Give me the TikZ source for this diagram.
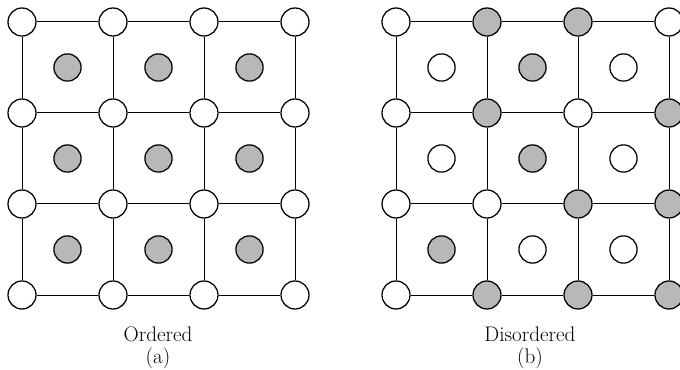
\documentclass[tikz,border=0pt]{standalone}
\usepackage{tikz}
\usetikzlibrary{positioning}
\definecolor{siteGray}{gray}{0.72}
\tikzset{
  lat/.style={draw, circle, line width=0.9pt, fill=white, minimum size=0.7cm, inner sep=0pt},
  occ/.style={lat, fill=siteGray},
  ctr/.style={draw, circle, line width=0.9pt, fill=white, minimum size=0.68cm, inner sep=0pt},
  ctrocc/.style={ctr, fill=siteGray},
  bond/.style={line width=0.7pt},
  caption/.style={font=\fontsize{15}{17}\selectfont},
}

\begin{document}
\begin{tikzpicture}
    \useasboundingbox (0,0) rectangle (17,9.25);
    % (a) ordered lattice
    \begin{scope}[shift={(0.55,1.875)}, x=2.275cm, y=2.275cm]
      \foreach \i in {0,...,3}
        \foreach \j in {0,...,3}
          \node[lat] (a-\i-\j) at (\i,\j) {};
      \foreach \i in {0,1,2}
        \foreach \j in {0,1,2}
          \node[ctrocc] (ac-\i-\j) at (\i+0.5,\j+0.5) {};
      \foreach \i [evaluate=\i as \k using int(\i+1)] in {0,1,2}
        \foreach \j in {0,...,3} {
          \draw[bond] (a-\i-\j) -- (a-\k-\j);
          \draw[bond] (a-\j-\i) -- (a-\j-\k);
        }
    \end{scope}
    % (b) disordered lattice
    \begin{scope}[shift={(9.9,1.875)}, x=2.275cm, y=2.275cm]
      \foreach \i/\j/\s in {0/3/lat,1/3/occ,2/3/occ,3/3/lat,
                            0/2/lat,1/2/occ,2/2/lat,3/2/occ,
                            0/1/lat,1/1/lat,2/1/occ,3/1/occ,
                            0/0/lat,1/0/occ,2/0/occ,3/0/occ}
        \node[\s] (b-\i-\j) at (\i,\j) {};
      \foreach \i/\j/\s in {0/2/ctr,1/2/ctrocc,2/2/ctr,
                            0/1/ctr,1/1/ctrocc,2/1/ctr,
                            0/0/ctrocc,1/0/ctr,2/0/ctr}
        \node[\s] (bc-\i-\j) at (\i+0.5,\j+0.5) {};
      \foreach \i [evaluate=\i as \k using int(\i+1)] in {0,1,2}
        \foreach \j in {0,...,3} {
          \draw[bond] (b-\i-\j) -- (b-\k-\j);
          \draw[bond] (b-\j-\i) -- (b-\j-\k);
        }
    \end{scope}
    % captions
    \node[caption] (ordLbl) at (3.95,0.9) {Ordered};
    \node[caption, below=-0.1cm of ordLbl] (aLbl) {(a)};
    \node[caption] (disLbl) at (13.25,0.9) {Disordered};
    \node[caption, below=-0.1cm of disLbl] (bLbl) {(b)};
\end{tikzpicture}
\end{document}
